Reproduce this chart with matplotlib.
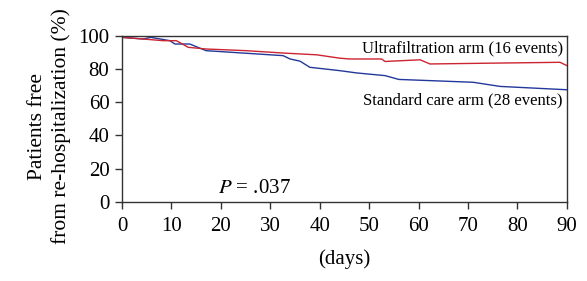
import numpy as np
import matplotlib
matplotlib.use("Agg")
import matplotlib.pyplot as plt

# Kaplan-Meier style curves (day, % free)
uf_days = [0, 4.3, 8.3, 11, 13.4, 17, 25, 33, 39.4, 44, 46, 52.5, 53.2, 60.3, 62.3, 75, 88.6, 90]
uf_vals = [99, 98, 97, 97, 93, 92, 91, 89.5, 88.5, 86.5, 86, 86, 84.5, 85.5, 83, 83.5, 84, 82]

sc_days = [0, 4.3, 5.8, 9.7, 10.7, 13.7, 17, 32.6, 34, 36, 38, 44, 47.5, 53.2, 56, 71, 76.5, 90]
sc_vals = [99, 98, 99, 97, 95, 95, 91, 88, 86, 84.7, 81, 79, 77.6, 76, 73.7, 72, 69.5, 67.5]

x_ticks = list(range(0, 91, 10))
y_ticks = list(range(0, 101, 20))

plt.rcParams["font.family"] = ["Liberation Serif", "DejaVu Serif"]
plt.rcParams["font.size"] = 15

fig = plt.figure(figsize=(5.87, 2.81), dpi=100)
ax = fig.add_axes([0.2078, 0.281, 0.758, 0.592])

ax.plot(sc_days, sc_vals, color="#22389a", lw=1.0)
ax.plot(uf_days, uf_vals, color="#cc2430", lw=1.0)

ax.set_xlim(0, 90)
ax.set_ylim(0, 100)
ax.set_xticks(x_ticks)
ax.set_yticks(y_ticks)
ax.tick_params(direction="out", length=5, width=1, color="#333333")
ax.tick_params(axis="x", pad=6)
ax.tick_params(axis="y", pad=4)
for sp in ax.spines.values():
    sp.set_color("#333333")
    sp.set_linewidth(1.0)

ax.text(89.2, 92.4, "Ultrafiltration arm (16 events)", ha="right", va="center", fontsize=12)
ax.text(89.2, 61, "Standard care arm (28 events)", ha="right", va="center", fontsize=12)
ax.text(19.4, 8.4, r"$P$ = .037", ha="left", va="center", fontsize=15,
        math_fontfamily="stix")

ax.set_xlabel("(days)", labelpad=9)
ax.set_ylabel("Patients free\nfrom re-hospitalization (%)", linespacing=1.25, fontsize=15.5)
ax.yaxis.set_label_coords(-0.115, 0.455)

fig.savefig("out.png", dpi=100)
